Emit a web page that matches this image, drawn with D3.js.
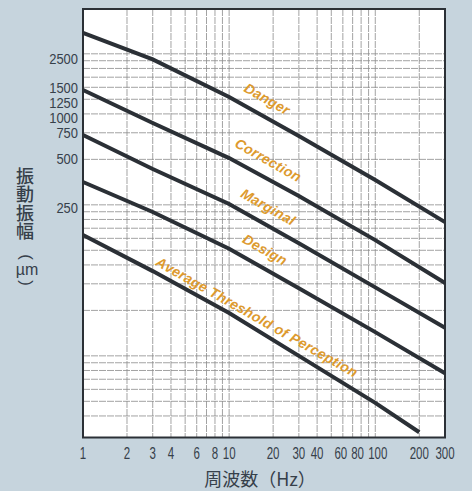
<!DOCTYPE html>
<html>
<head>
<meta charset="utf-8">
<script src="https://cdn.jsdelivr.net/npm/d3@7"></script>
<style>
  body { margin: 0; background: #c6d4dd; }
  figure { margin: 0; }
</style>
</head>
<body>
<figure id="chart"></figure>
<script>
// readings from the chart (Hz, µm)
const freqs = [1, 3, 10, 30, 100, 300];
const danger = [3435, 2295, 1295, 715, 365, 192];
const correction = [1440, 870, 510, 286, 146, 76];
const marginal = [725, 432, 253, 139, 71, 38.4];
const design = [354, 224, 128, 70, 35.9, 19.2];
const thresholdFreqs = [1, 3, 10, 30, 100, 200];
const threshold = [158, 91, 48, 25, 12.2, 7.8];

const lineNames = ["Danger", "Correction", "Marginal", "Design", "Average Threshold of Perception"];
const labelFreqs = [18.2, 18.5, 18.5, 17.6, 15.5];
const labelAmps = [1256, 495, 242, 126, 45.2];

const xTicks = [1, 2, 3, 4, 6, 8, 10, 20, 30, 40, 60, 80, 100, 200, 300];
const xGrid = [1, 2, 3, 4, 5, 6, 7, 8, 9, 10, 20, 30, 40, 50, 60, 70, 80, 90, 100, 200, 300];
const yTicks = [250, 500, 750, 1000, 1250, 1500, 2500];
const yGridBases = [2.5, 25, 250];

const width = 472, height = 491;
const margin = { top: 9, right: 27, bottom: 53.5, left: 83 };
const ink = "#36404a";

const svg = d3.select("#chart")
  .append("svg")
  .attr("width", width)
  .attr("height", height);

const x = d3.scaleLog().domain([1, 300]).range([margin.left, width - margin.right]);
const y = d3.scaleLog().domain([7.2, 4950]).range([height - margin.bottom, margin.top]);

// plot background
svg.append("rect")
  .attr("x", x(1)).attr("y", y(4950))
  .attr("width", x(300) - x(1)).attr("height", y(7.2) - y(4950))
  .attr("fill", "#ffffff");

// grid
let yGrid = [];
yGridBases.forEach(b => d3.range(1, 10).forEach(m => yGrid.push(m * b)));
yGrid.push(2500);
yGrid = yGrid.filter(v => v >= 10);

svg.append("g")
  .selectAll("line")
  .data(xGrid)
  .enter()
  .append("line")
  .attr("x1", d => x(d)).attr("x2", d => x(d))
  .attr("y1", y(4950)).attr("y2", y(7.2))
  .attr("stroke", "#8c8c8c")
  .attr("stroke-width", 0.8)
  .attr("stroke-dasharray", "7,1");

svg.append("g")
  .selectAll("line")
  .data(yGrid)
  .enter()
  .append("line")
  .attr("x1", x(1)).attr("x2", x(300))
  .attr("y1", d => y(d)).attr("y2", d => y(d))
  .attr("stroke", "#8c8c8c")
  .attr("stroke-width", 0.8)
  .attr("stroke-dasharray", "7,1");

// frame
svg.append("rect")
  .attr("x", x(1)).attr("y", y(4950))
  .attr("width", x(300) - x(1)).attr("height", y(7.2) - y(4950))
  .attr("fill", "none")
  .attr("stroke", "#2b3036")
  .attr("stroke-width", 2);

// curves
const series = [
  { f: freqs, v: danger },
  { f: freqs, v: correction },
  { f: freqs, v: marginal },
  { f: freqs, v: design },
  { f: thresholdFreqs, v: threshold }
];
const line = d3.line()
  .x(d => x(d[0]))
  .y(d => y(d[1]));

svg.append("g")
  .selectAll("path")
  .data(series)
  .enter()
  .append("path")
  .attr("d", s => line(s.f.map((f, i) => [f, s.v[i]])))
  .attr("fill", "none")
  .attr("stroke", "#2b3036")
  .attr("stroke-width", 4);

// curve labels
svg.append("g")
  .selectAll("text")
  .data(lineNames)
  .enter()
  .append("text")
  .attr("transform", (d, i) => "translate(" + x(labelFreqs[i]) + "," + y(labelAmps[i]) + ") rotate(29.5)")
  .attr("text-anchor", "middle")
  .attr("dy", "0.35em")
  .style("font-family", "Liberation Sans, Arial, sans-serif")
  .style("font-weight", "bold")
  .style("font-style", "italic")
  .style("font-size", "14px")
  .style("letter-spacing", "0.3px")
  .attr("fill", "#dd9a2e")
  .text(d => d);

// tick labels - narrow digits, squeezed with textLength
const numFont = "'Liberation Sans', Arial, sans-serif";
// a few crowded labels get a small nudge, like the printed chart
const xNudge = { 60: -2, 80: -3.5, 100: 2.5 };
const yNudge = { 2500: 5, 1500: 0.6, 1250: 3.6, 1000: 4, 250: 3 };

svg.append("g")
  .selectAll("text")
  .data(xTicks)
  .enter()
  .append("text")
  .attr("x", d => x(d) + (xNudge[d] || 0))
  .attr("y", 459)
  .attr("text-anchor", "middle")
  .attr("textLength", d => String(d).length * 6.4)
  .attr("lengthAdjust", "spacingAndGlyphs")
  .style("font-family", numFont)
  .style("font-size", "16px")
  .attr("fill", ink)
  .text(d => d);

svg.append("g")
  .selectAll("text")
  .data(yTicks)
  .enter()
  .append("text")
  .attr("x", 78)
  .attr("y", d => y(d) + (yNudge[d] || 0))
  .attr("dy", "0.36em")
  .attr("text-anchor", "end")
  .attr("textLength", d => String(d).length * 7.2)
  .attr("lengthAdjust", "spacingAndGlyphs")
  .style("font-family", numFont)
  .style("font-size", "14px")
  .attr("fill", ink)
  .text(d => d);

// axis titles
const jpFont = "'Noto Sans CJK JP', sans-serif";

svg.append("text")
  .attr("x", 260)
  .attr("y", 486)
  .attr("text-anchor", "middle")
  .style("font-family", jpFont)
  .style("font-size", "18px")
  .attr("fill", ink)
  .text("周波数（Hz）");

// vertical title
svg.append("text")
  .attr("x", 25)
  .attr("y", 167)
  .style("writing-mode", "vertical-rl")
  .style("font-family", jpFont)
  .style("font-size", "18px")
  .style("font-weight", "500")
  .style("letter-spacing", "0.4px")
  .attr("fill", ink)
  .text("振動振幅");

// (µm) written vertically: parentheses turned on their side
svg.append("text")
  .attr("transform", "translate(27,257) rotate(90)")
  .attr("text-anchor", "middle")
  .attr("dy", "0.35em")
  .style("font-family", numFont)
  .style("font-size", "17px")
  .attr("fill", ink)
  .text("(");

svg.append("text")
  .attr("x", 27).attr("y", 275)
  .attr("text-anchor", "middle")
  .style("font-family", numFont)
  .style("font-size", "16px")
  .attr("fill", ink)
  .text("µm");

svg.append("text")
  .attr("transform", "translate(27,283) rotate(90)")
  .attr("text-anchor", "middle")
  .attr("dy", "0.35em")
  .style("font-family", numFont)
  .style("font-size", "17px")
  .attr("fill", ink)
  .text(")");
</script>
</body>
</html>
